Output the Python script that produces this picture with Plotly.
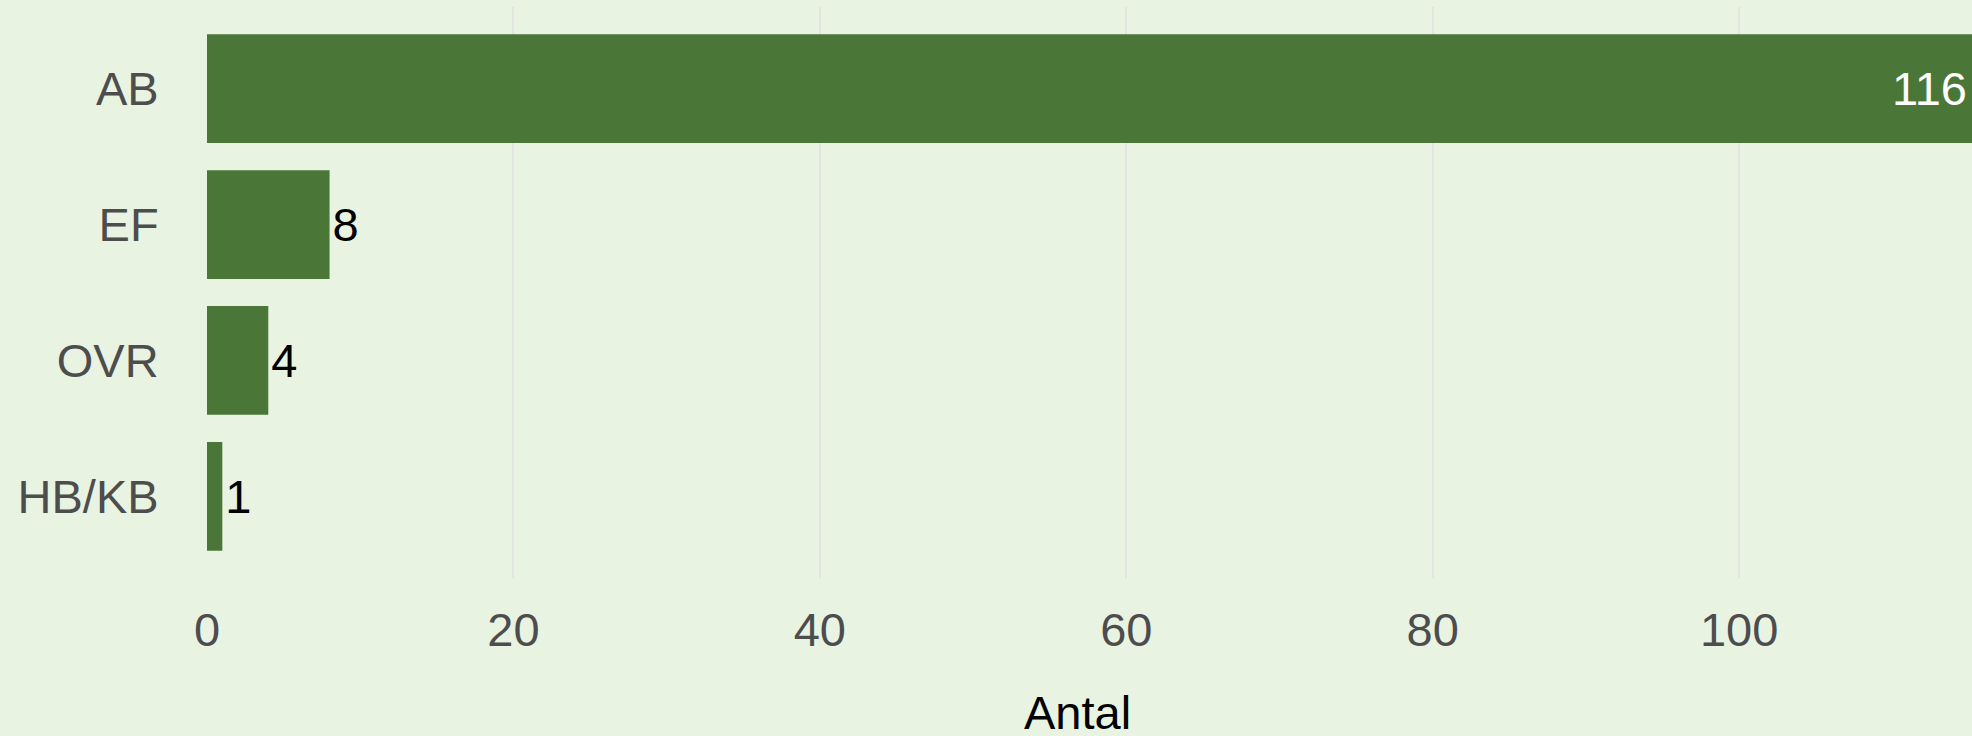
import plotly.graph_objects as go

categories = ["AB", "EF", "OVR", "HB/KB"]
antal = [116, 8, 4, 1]
x_ticks = [0, 20, 40, 60, 80, 100]

bg = "#E8F3E2"
bar_col = "#4A7737"
font = "Liberation Sans"

fig = go.Figure()

# first bar runs past the right edge, so its label goes in via an annotation
fig.add_trace(go.Bar(
    x=antal,
    y=categories,
    orientation="h",
    width=0.8,
    marker=dict(color=bar_col, line=dict(width=0)),
    text=[""] + [str(v) for v in antal[1:]],
    textposition="outside",
    textfont=dict(family=font, size=47, color="black"),
    cliponaxis=False,
    showlegend=False,
))

fig.add_annotation(
    text=str(antal[0]), xref="paper", yref="y", x=1.0, y=categories[0],
    xanchor="right", yanchor="middle", xshift=-3, showarrow=False,
    font=dict(family=font, size=47, color="white"),
)

fig.add_annotation(
    text="Antal", xref="paper", yref="paper", x=0.493, y=-0.186,
    xanchor="center", yanchor="top", showarrow=False,
    font=dict(family=font, size=47, color="black"),
)

fig.update_xaxes(
    range=[0, 115.2],
    tickvals=x_ticks,
    showgrid=True, gridcolor="#E3E6E0", gridwidth=2,
    zeroline=False,
    ticks="outside", ticklen=11, tickcolor="rgba(0,0,0,0)",
    tickfont=dict(family=font, size=47, color="#4D4D4D"),
)
fig.update_yaxes(
    range=[3.6, -0.6],
    categoryorder="array", categoryarray=categories,
    showgrid=False, zeroline=False,
    ticks="outside", ticklen=38, tickcolor="rgba(0,0,0,0)",
    tickfont=dict(family=font, size=47, color="#4D4D4D"),
)

fig.update_layout(
    width=1972, height=736,
    margin=dict(l=207, r=0, t=7, b=158),
    paper_bgcolor=bg, plot_bgcolor=bg,
)

fig.write_html("out.html", config={"displayModeBar": False},
               post_script="document.body.style.margin='0';document.body.style.background='%s';" % bg)
